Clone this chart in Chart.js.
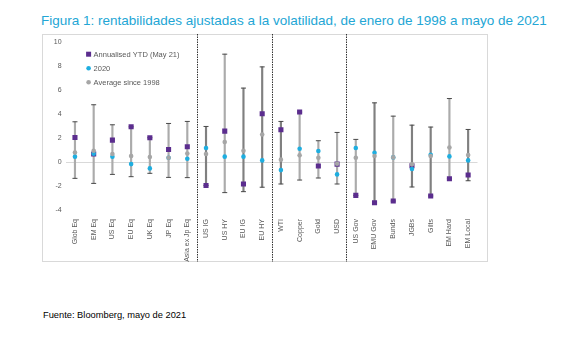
<!DOCTYPE html>
<html lang="es">
<head>
<meta charset="UTF-8">
<title>Figura 1</title>
<style>
  body { margin: 0; background: #fff; width: 579px; height: 337px; position: relative; overflow: hidden; }
  #title { position: absolute; left: 41px; top: 13px; font: 13.5px "Liberation Sans", Arial, sans-serif; color: #23a6d5; white-space: nowrap; }
  #source { position: absolute; left: 43px; top: 310px; font: 9.3px "Liberation Sans", Arial, sans-serif; color: #000; white-space: nowrap; }
  #wrap { position: absolute; left: 42px; top: 34px; width: 446px; height: 228px; }
</style>
</head>
<body>
<div id="title">Figura 1: rentabilidades ajustadas a la volatilidad, de enero de 1998 a mayo de 2021</div>
<div id="wrap"><canvas id="myChart" width="446" height="228"></canvas></div>
<div id="source">Fuente: Bloomberg, mayo de 2021</div>

<script src="https://cdn.jsdelivr.net/npm/chart.js@4"></script>
<script>
const categories = ['Glob Eq', 'EM Eq', 'US Eq', 'EU Eq', 'UK Eq', 'JP Eq', 'Asia ex Jp Eq',
  'US IG', 'US HY', 'EU IG', 'EU HY', 'WTI', 'Copper', 'Gold', 'USD',
  'US Gov', 'EMU Gov', 'Bunds', 'JGBs', 'Gilts', 'EM Hard', 'EM Local'];

const ytd = [2.05, 0.67, 1.83, 2.94, 2.03, 1.05, 1.28, -1.95, 2.58, -1.83, 4.03,
  2.7, 4.17, -0.33, -0.17, -2.78, -3.39, -3.25, -0.31, -2.83, -1.39, -1.08];
const y2020 = [0.45, 0.7, 0.45, -0.17, -0.53, 0.36, 0.28, 1.17, 0.45, 0.45, 0.14,
  -0.67, 1.11, 0.92, -1.03, 1.17, 0.78, 0.39, -0.58, 0.61, 0.47, 0.14];
const avg = [0.8, 0.94, 0.67, 0.5, 0.42, 0.36, 0.72, 0.67, 1.67, 0.94, 2.3,
  0.2, 0.56, 0.36, -0.14, 0.36, 0.5, 0.39, -0.19, 0.5, 1.22, 0.58];
const rangeHigh = [3.36, 4.78, 3.11, 2.94, 2.03, 3.22, 3.39, 2.97, 9.0, 6.17, 7.94,
  3.39, 4.17, 1.78, 2.47, 1.89, 4.94, 3.83, 3.08, 2.92, 5.3, 2.72];
const rangeLow = [-1.36, -1.78, -1.03, -1.22, -0.94, -1.28, -1.3, -1.95, -2.55, -2.47, -2.1,
  -1.83, -1.5, -1.33, -1.83, -2.78, -3.39, -3.25, -2.08, -2.83, -1.39, -1.56];
const groupBreaks = [7, 11, 15]; // first index of each new group

const yTicks = [-4, -2, 0, 2, 4, 6, 8, 10];
const legendOrder = ['Annualised YTD (May 21)', '2020', 'Average since 1998'];

const purple = '#5b2d8e';
const cyan = '#1eaee0';
const grey = '#a6a6a6';
const darkWhisker = [7, 9, 10, 11, 16, 18, 19, 21];

// box, group separators and legend
const framePlugin = {
  id: 'frame',
  beforeDraw(chart) {
    const ctx = chart.ctx;
    ctx.save();
    ctx.strokeStyle = '#d9d9d9';
    ctx.lineWidth = 1;
    ctx.strokeRect(0.5, 0.5, chart.width - 1, chart.height - 1);
    ctx.restore();
  },
  afterDraw(chart) {
    const ctx = chart.ctx;
    const x = chart.scales.x;
    ctx.save();
    ctx.strokeStyle = '#333';
    ctx.lineWidth = 1;
    ctx.setLineDash([1.5, 1]);
    groupBreaks.forEach(i => {
      const px = Math.round((x.getPixelForTick(i - 1) + x.getPixelForTick(i)) / 2) + 0.5;
      ctx.beginPath();
      ctx.moveTo(px, 0);
      ctx.lineTo(px, chart.height);
      ctx.stroke();
    });
    ctx.setLineDash([]);
    // legend
    let ly = chart.chartArea.top + 12;
    const lx = chart.chartArea.left + 23;
    ctx.font = '7.5px "Liberation Sans", Arial, sans-serif';
    ctx.textBaseline = 'middle';
    legendOrder.forEach(name => {
      const d = chart.data.datasets.find(s => s.label === name);
      ctx.fillStyle = d.backgroundColor;
      if (d.pointStyle === 'rect') {
        ctx.fillRect(lx - 2.5, ly - 2.5, 5, 5);
      } else {
        ctx.beginPath();
        ctx.arc(lx, ly, 2.3, 0, Math.PI * 2);
        ctx.fill();
      }
      ctx.fillStyle = '#595959';
      ctx.fillText(d.label, lx + 5, ly + 0.5);
      ly += 14;
    });
    ctx.restore();
  }
};

new Chart(document.getElementById('myChart'), {
  data: {
    labels: categories,
    datasets: [
      {
        type: 'line', label: 'Average since 1998', data: avg, order: 1,
        showLine: false, pointStyle: 'circle', pointRadius: 2.3,
        backgroundColor: grey, borderColor: grey, borderWidth: 0
      },
      {
        type: 'line', label: '2020', data: y2020, order: 2,
        showLine: false, pointStyle: 'circle', pointRadius: 2.3,
        backgroundColor: cyan, borderColor: cyan, borderWidth: 0
      },
      {
        type: 'line', label: 'Annualised YTD (May 21)', data: ytd, order: 3,
        showLine: false, pointStyle: 'rect', pointRadius: 3.6,
        backgroundColor: purple, borderColor: purple, borderWidth: 0
      },
      {
        type: 'line', label: 'high', data: rangeHigh, order: 4,
        showLine: false, pointStyle: 'line', pointRadius: 2.5,
        borderColor: '#4a4a4a', borderWidth: 1
      },
      {
        type: 'line', label: 'low', data: rangeLow, order: 4,
        showLine: false, pointStyle: 'line', pointRadius: 2.5,
        borderColor: '#4a4a4a', borderWidth: 1
      },
      {
        type: 'bar', label: 'range', order: 5,
        data: rangeLow.map((l, i) => [l, rangeHigh[i]]),
        barThickness: 1.5,
        backgroundColor: categories.map((c, i) => darkWhisker.includes(i) ? '#808080' : '#ababab')
      }
    ]
  },
  options: {
    responsive: false,
    animation: false,
    devicePixelRatio: 1,
    layout: { padding: { left: 0, top: 8, right: 10.5, bottom: 0 } },
    plugins: {
      legend: { display: false },
      tooltip: { enabled: false }
    },
    scales: {
      x: {
        type: 'category',
        offset: true,
        grid: { display: false },
        border: { display: false },
        ticks: {
          autoSkip: false, minRotation: 90, maxRotation: 90,
          color: '#595959', padding: 1,
          font: { family: '"Liberation Sans", Arial, sans-serif', size: 7 }
        },
        afterFit(scale) { scale.height = 52; }
      },
      y: {
        min: -4, max: 10,
        afterBuildTicks(scale) { scale.ticks = yTicks.map(v => ({ value: v })); },
        border: { display: false },
        grid: {
          drawTicks: false,
          color: c => c.tick && c.tick.value === 0 ? '#d9d9d9' : 'rgba(0,0,0,0)'
        },
        ticks: {
          color: '#595959', padding: 4,
          font: { family: '"Liberation Sans", Arial, sans-serif', size: 7 }
        },
        afterFit(scale) { scale.width = 23.6; }
      }
    }
  },
  plugins: [framePlugin]
});
</script>
</body>
</html>
